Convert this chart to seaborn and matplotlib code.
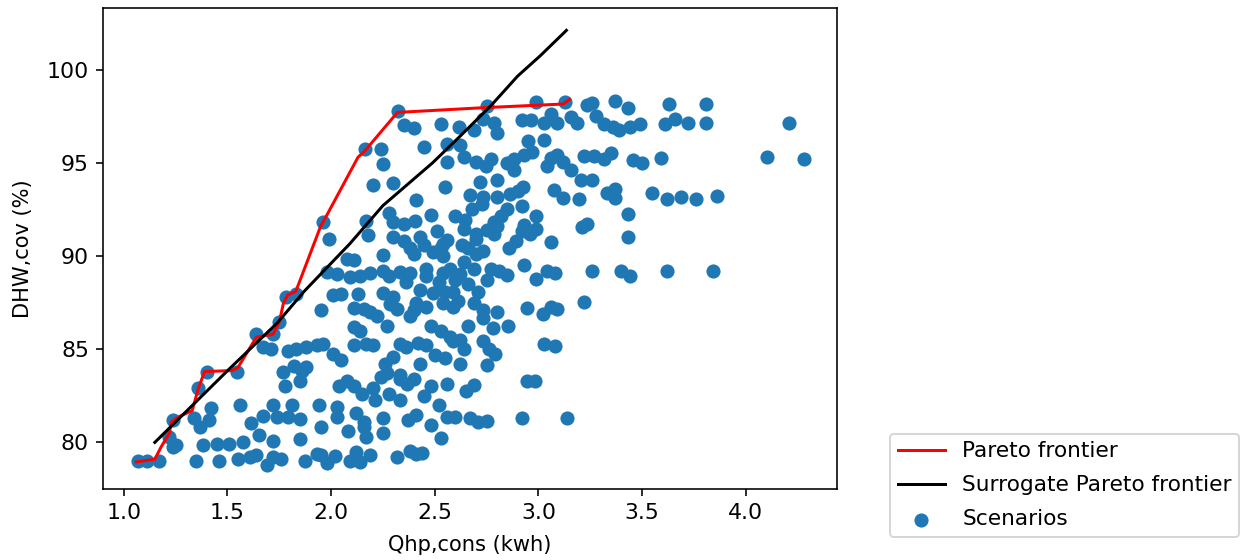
import matplotlib
matplotlib.use("Agg")
import matplotlib.pyplot as plt
import seaborn as sns
import pandas as pd

# Scenario results: heat-pump consumption (kWh) vs. DHW coverage (%)
scenario_x = [
    1.07, 1.11, 1.17, 1.24, 1.25, 1.22, 1.35, 1.38, 1.45, 1.46, 1.51, 1.55, 1.575, 1.61, 1.64,
    1.69, 1.72, 1.72, 1.76, 1.875, 1.93, 1.95, 1.98, 2.02, 2.09, 2.12, 2.14, 2.19, 2.32, 2.38,
    2.41, 2.44, 2.17, 2.53, 1.37, 1.95, 2.16,
    1.24, 1.34, 1.41, 1.615, 1.67, 1.74, 1.79, 1.85, 2.03, 2.12, 2.16, 2.25, 2.37, 2.41, 2.48,
    2.56, 2.60, 2.67, 2.71, 2.75, 2.92, 3.14, 1.42, 1.56, 1.72, 1.81, 1.94, 2.03, 2.21, 2.33,
    1.36, 1.78, 1.85, 2.04, 2.075, 2.11, 2.20, 2.24, 2.33, 2.365, 2.40, 2.48, 2.56, 2.65, 2.69,
    2.945, 2.985, 1.40, 1.545, 1.77, 1.82, 1.86, 1.88, 2.27, 2.33, 2.43, 2.75,
    1.67, 1.71, 1.79, 1.83, 1.88, 1.93, 1.96, 2.01, 2.11, 2.17, 2.20, 2.33, 2.36, 2.42, 2.46,
    2.59, 2.575, 2.64, 2.735, 2.76, 2.79, 3.025, 3.08, 1.64, 1.72,
    2.11, 2.14, 2.27, 2.38, 2.48, 2.53, 2.62, 2.66, 2.735, 2.78, 2.855, 2.19, 2.22, 1.75,
    1.785, 1.83, 1.95, 2.01, 2.05, 2.11, 2.13, 2.16, 2.285, 2.30, 2.32, 2.25, 2.40, 2.41, 2.46,
    2.54, 2.59, 2.61, 2.69, 2.735, 2.80, 2.945, 3.02, 3.06, 3.09, 3.22,
    2.09, 2.43, 2.49, 2.55, 2.59, 2.71, 2.99, 1.98, 2.03, 2.19, 2.25, 2.33, 2.38, 2.46, 2.46,
    2.54, 2.575, 2.62, 2.69, 2.77, 2.81, 2.93, 3.04, 3.08, 3.26, 3.40, 3.44, 3.62, 3.84,
    2.075, 2.11, 2.25, 2.40, 2.38, 2.49, 2.53, 2.54, 2.70, 2.735, 1.99, 2.18, 2.30, 2.43, 2.51,
    2.54, 2.56, 2.70, 2.70, 2.785, 2.75, 2.92, 2.93, 2.96, 2.99, 3.06, 3.21, 3.235, 3.43,
    1.96, 2.17, 2.30, 2.35, 2.405, 2.60, 2.645, 2.64, 2.785, 2.82, 2.85, 2.99, 3.43, 2.41,
    2.20, 2.30, 2.55, 2.67, 2.72, 2.735, 2.80, 2.80, 2.865, 2.90, 2.925, 3.075, 3.12, 3.195,
    3.205, 3.26, 3.33, 3.37, 3.37, 3.55, 3.62, 3.69, 3.76, 3.86,
    2.165, 2.24, 2.25, 2.45, 2.56, 2.56, 2.62, 2.64, 2.70, 2.745, 2.77, 2.85, 2.88, 2.88, 2.93,
    2.97, 2.95, 3.025, 3.04, 3.06, 3.09, 3.12, 3.155, 3.22, 3.27, 3.315, 3.35, 3.455, 3.50,
    3.59, 4.10, 4.28, 2.80, 2.69,
    2.325, 2.35, 2.40, 2.53, 2.615, 2.735, 2.75, 2.785, 2.92, 2.965, 2.99, 3.025, 3.06, 3.09,
    3.13, 3.155, 3.185, 3.235, 3.26, 3.28, 3.315, 3.36, 3.37, 3.39, 3.43, 3.44, 3.49, 3.61,
    3.63, 3.66, 3.72, 3.81, 3.81, 4.21,
    2.14, 2.28, 2.36, 2.52, 2.60, 2.66, 2.75, 2.85, 2.63, 2.66, 2.45, 2.35, 2.28, 2.48, 2.68,
    2.73, 2.92, 2.86, 2.89, 2.80, 2.64, 2.50, 2.55, 2.62, 2.30, 2.26, 2.05, 2.15, 2.28, 2.45,
    2.52, 2.08, 2.25, 1.85, 1.65,
]
scenario_y = [
    79.0, 79.0, 79.0, 79.75, 79.85, 80.3, 79.0, 79.85, 79.9, 79.0, 79.9, 79.1, 80.0, 79.2, 79.3,
    78.8, 79.2, 80.1, 79.1, 79.0, 79.4, 79.3, 78.9, 79.25, 79.0, 79.5, 78.95, 79.35, 79.2, 79.55,
    79.4, 79.45, 80.3, 80.25, 80.85, 80.8, 80.8,
    81.2, 81.3, 81.2, 81.05, 81.4, 81.35, 81.35, 81.25, 81.35, 81.55, 81.1, 81.3, 81.2, 81.45, 80.95,
    81.35, 81.35, 81.3, 81.1, 81.15, 81.3, 81.3, 81.85, 82.0, 82.0, 82.0, 82.0, 81.9, 82.25, 82.25,
    82.9, 83.0, 83.3, 83.05, 83.3, 83.05, 82.9, 83.5, 83.4, 83.15, 83.4, 83.0, 83.15, 82.75, 83.1,
    83.3, 83.3, 83.8, 83.8, 83.8, 84.1, 83.85, 84.05, 83.7, 83.6, 84.2, 84.15,
    85.1, 85.0, 84.9, 85.0, 85.1, 85.2, 85.3, 84.75, 85.2, 85.3, 85.2, 85.3, 85.1, 85.35, 85.2,
    85.45, 85.65, 85.0, 85.45, 85.0, 84.75, 85.3, 85.15, 85.8, 85.8,
    86.2, 85.95, 86.25, 86.8, 86.25, 85.95, 85.5, 86.25, 86.65, 86.15, 86.25, 87.0, 86.8, 86.45,
    87.8, 87.95, 87.1, 87.9, 87.95, 87.2, 87.95, 87.15, 87.4, 87.8, 87.15, 88.0, 87.1, 87.5, 87.25,
    87.45, 87.25, 87.6, 87.45, 87.1, 87.0, 87.2, 86.9, 87.25, 87.15, 87.55,
    88.85, 88.15, 88.0, 88.05, 88.05, 88.05, 88.75, 89.15, 89.05, 89.1, 89.2, 89.15, 89.1, 88.95, 89.3,
    89.1, 89.3, 89.05, 89.3, 89.3, 89.2, 89.5, 89.2, 89.1, 89.2, 89.2, 88.95, 89.2, 89.2,
    89.85, 89.8, 90.05, 90.1, 90.4, 90.2, 90.45, 90.0, 90.1, 90.25, 90.9, 91.15, 91.0, 91.0, 91.35,
    90.65, 90.85, 90.9, 91.2, 91.2, 91.4, 91.35, 91.65, 91.2, 91.45, 90.75, 91.55, 91.7, 91.0,
    91.8, 91.85, 91.8, 91.7, 91.85, 92.15, 91.95, 91.45, 91.8, 92.15, 92.5, 92.15, 92.25, 93.0,
    93.8, 93.9, 93.7, 93.25, 93.95, 93.15, 94.05, 93.15, 93.3, 93.5, 93.7, 93.55, 93.1, 93.05,
    94.1, 94.05, 93.4, 93.6, 93.1, 93.4, 93.05, 93.15, 93.05, 93.2,
    95.75, 95.75, 94.95, 95.85, 96.0, 95.05, 95.95, 95.3, 95.05, 94.85, 95.2, 95.0, 95.2, 94.6, 95.4,
    95.55, 96.15, 96.2, 94.8, 95.25, 95.4, 95.05, 94.6, 95.35, 95.35, 95.2, 95.5, 95.15, 95.0,
    95.25, 95.3, 95.2, 96.6, 96.75,
    97.8, 97.0, 96.85, 97.1, 96.9, 97.35, 98.05, 97.15, 97.3, 97.3, 98.25, 97.15, 97.6, 97.15,
    98.25, 97.45, 97.15, 98.1, 98.2, 97.5, 97.1, 96.9, 98.3, 96.75, 97.95, 96.9, 97.1, 97.1,
    98.15, 97.35, 97.15, 98.15, 97.15, 97.15,
    88.9, 88.9, 88.6, 88.6, 88.7, 88.5, 88.7, 89.0, 90.6, 90.4, 90.6, 90.8, 92.3, 92.2, 92.5,
    92.8, 92.7, 90.4, 90.8, 91.6, 89.7, 84.7, 84.5, 84.2, 84.6, 84.2, 84.4, 82.6, 82.6, 82.5,
    82.0, 80.6, 80.5, 80.2, 80.4,
]

# Pareto frontier of the scenarios
pareto_x = [1.06, 1.15, 1.18, 1.22, 1.23, 1.27, 1.33, 1.36, 1.39, 1.52, 1.55, 1.64, 1.72,
            1.75, 1.77, 1.79, 1.83, 1.95, 1.98, 2.13, 2.16, 2.32, 2.73, 3.12, 3.15]
pareto_y = [78.95, 79.1, 79.75, 80.5, 81.1, 81.4, 81.7, 82.9, 83.8, 83.85, 84.0, 85.65, 85.8,
            86.45, 87.45, 87.9, 88.1, 91.6, 92.2, 95.3, 95.6, 97.7, 97.95, 98.15, 98.4]

# Pareto frontier predicted by the surrogate model
surrogate_x = [1.15, 1.51, 1.74, 1.87, 2.09, 2.25, 2.49, 2.62, 2.77, 2.90, 3.01, 3.135]
surrogate_y = [80.0, 83.95, 86.4, 88.1, 90.65, 92.7, 95.0, 96.4, 98.05, 99.65, 100.75, 102.1]

scen = pd.DataFrame({"q": scenario_x, "dhw": scenario_y})
par = pd.DataFrame({"q": pareto_x, "dhw": pareto_y})
sur = pd.DataFrame({"q": surrogate_x, "dhw": surrogate_y})

fig = plt.figure(figsize=(1241 / 144, 560 / 144), dpi=144)
ax = fig.add_axes([103 / 1241, 71 / 560, 734 / 1241, 481 / 560])

sns.scatterplot(data=scen, x="q", y="dhw", ax=ax, color="#1f77b4", s=50,
                linewidth=0, label="Scenarios")
sns.lineplot(data=par, x="q", y="dhw", ax=ax, color="red", sort=False,
             estimator=None, linewidth=1.5, label="Pareto frontier")
sns.lineplot(data=sur, x="q", y="dhw", ax=ax, color="black", sort=False,
             estimator=None, linewidth=1.5, label="Surrogate Pareto frontier")

ax.set_xlim(0.90, 4.44)
ax.set_ylim(77.5, 103.3)
ax.tick_params(labelsize=11)
ax.set_xlabel("Qhp,cons (kwh)", fontsize=10.5, labelpad=6)
ax.set_ylabel("DHW,cov (%)", fontsize=10.5, labelpad=7)

handles, labels = ax.get_legend_handles_labels()
order = [labels.index(l) for l in ["Pareto frontier", "Surrogate Pareto frontier", "Scenarios"]]
ax.legend([handles[i] for i in order], [labels[i] for i in order],
          loc="lower left", bbox_to_anchor=(890 / 1241, 23 / 560),
          bbox_transform=fig.transFigure, borderaxespad=0, fontsize=10.8,
          borderpad=0.35, labelspacing=0.65, handlelength=2.2, handletextpad=0.8)

fig.savefig("out.png", dpi=144)
